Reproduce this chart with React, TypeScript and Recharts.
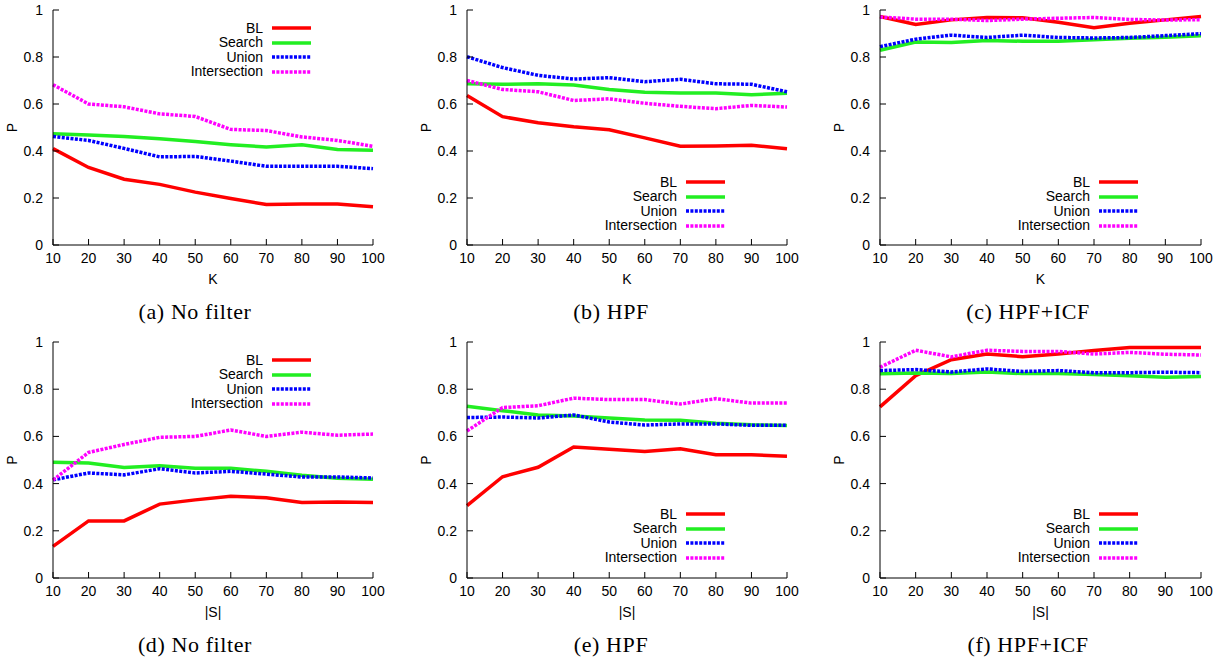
import React from 'react';
import { LineChart, Line, XAxis, YAxis, Legend } from 'recharts';

const xTicks = [10, 20, 30, 40, 50, 60, 70, 80, 90, 100];
const yTicks = [0, 0.2, 0.4, 0.6, 0.8, 1];
const seriesNames = ['BL', 'Search', 'Union', 'Intersection'];

// (a) No filter, K
const aBL = [0.41, 0.33, 0.28, 0.258, 0.225, 0.198, 0.172, 0.174, 0.174, 0.163];
const aSearch = [0.473, 0.468, 0.462, 0.452, 0.44, 0.427, 0.417, 0.427, 0.406, 0.403];
const aUnion = [0.462, 0.445, 0.411, 0.375, 0.377, 0.357, 0.335, 0.335, 0.335, 0.325];
const aInter = [0.682, 0.6, 0.588, 0.558, 0.547, 0.492, 0.487, 0.46, 0.445, 0.42];
// (b) HPF, K
const bBL = [0.636, 0.546, 0.52, 0.503, 0.49, 0.456, 0.42, 0.421, 0.424, 0.41];
const bSearch = [0.686, 0.684, 0.686, 0.681, 0.662, 0.65, 0.647, 0.647, 0.639, 0.646];
const bUnion = [0.801, 0.755, 0.722, 0.706, 0.712, 0.695, 0.705, 0.686, 0.684, 0.652];
const bInter = [0.7, 0.662, 0.652, 0.615, 0.622, 0.603, 0.59, 0.58, 0.594, 0.587];
// (c) HPF+ICF, K
const cBL = [0.972, 0.938, 0.958, 0.968, 0.967, 0.948, 0.925, 0.944, 0.958, 0.972];
const cSearch = [0.829, 0.864, 0.862, 0.87, 0.867, 0.867, 0.873, 0.88, 0.884, 0.89];
const cUnion = [0.844, 0.876, 0.893, 0.883, 0.893, 0.883, 0.881, 0.883, 0.891, 0.899];
const cInter = [0.97, 0.961, 0.961, 0.955, 0.961, 0.965, 0.968, 0.96, 0.957, 0.959];
// (d) No filter, |S|
const dBL = [0.134, 0.242, 0.242, 0.313, 0.331, 0.346, 0.34, 0.32, 0.322, 0.32];
const dSearch = [0.49, 0.487, 0.468, 0.476, 0.465, 0.465, 0.452, 0.435, 0.423, 0.418];
const dUnion = [0.416, 0.445, 0.437, 0.463, 0.445, 0.452, 0.44, 0.428, 0.428, 0.424];
const dInter = [0.415, 0.532, 0.566, 0.596, 0.6, 0.627, 0.6, 0.618, 0.605, 0.61];
// (e) HPF, |S|
const eBL = [0.307, 0.429, 0.469, 0.555, 0.546, 0.536, 0.548, 0.522, 0.522, 0.516];
const eSearch = [0.728, 0.709, 0.691, 0.686, 0.678, 0.67, 0.668, 0.656, 0.649, 0.646];
const eUnion = [0.68, 0.682, 0.678, 0.691, 0.661, 0.648, 0.653, 0.653, 0.647, 0.647];
const eInter = [0.623, 0.722, 0.73, 0.762, 0.756, 0.756, 0.737, 0.76, 0.741, 0.742];
// (f) HPF+ICF, |S|
const fBL = [0.725, 0.857, 0.925, 0.949, 0.938, 0.949, 0.964, 0.977, 0.977, 0.977];
const fSearch = [0.865, 0.869, 0.867, 0.873, 0.866, 0.866, 0.862, 0.857, 0.851, 0.854];
const fUnion = [0.879, 0.883, 0.873, 0.886, 0.875, 0.879, 0.87, 0.87, 0.872, 0.87];
const fInter = [0.893, 0.965, 0.937, 0.965, 0.96, 0.96, 0.949, 0.956, 0.948, 0.945];

const SANS = '"Liberation Sans", Arial, Helvetica, sans-serif';
const SERIF = '"Liberation Serif", "Times New Roman", serif';
const TICK = 6;
const FS = 14;

const seriesStyles = [
  { color: '#ff0000', dash: undefined as string | undefined },
  { color: '#22ee22', dash: undefined as string | undefined },
  { color: '#0000ff', dash: '3 1.4' },
  { color: '#ff00ff', dash: '3 1.4' },
];

const ML = 60; // left space inside container before plot
const MT = 10;
const MR = 20;
const BOTTOM_H = 90;

type Panel = {
  caption: string;
  xLabel: string;
  plotLeft: number;
  plotTop: number;
  plotW: number;
  plotH: number;
  legendRow1: number;
  captionDx: number;
  values: number[][];
};

const panels: Panel[] = [
  { caption: '(a) No filter', xLabel: 'K', plotLeft: 53, plotTop: 10, plotW: 320, plotH: 235, legendRow1: 18, captionDx: 142, values: [aBL, aSearch, aUnion, aInter] },
  { caption: '(b) HPF', xLabel: 'K', plotLeft: 467, plotTop: 10, plotW: 320, plotH: 235, legendRow1: 172, captionDx: 144, values: [bBL, bSearch, bUnion, bInter] },
  { caption: '(c) HPF+ICF', xLabel: 'K', plotLeft: 880, plotTop: 10, plotW: 321, plotH: 235, legendRow1: 172, captionDx: 148, values: [cBL, cSearch, cUnion, cInter] },
  { caption: '(d) No filter', xLabel: '|S|', plotLeft: 53, plotTop: 342, plotW: 320, plotH: 236, legendRow1: 18, captionDx: 142, values: [dBL, dSearch, dUnion, dInter] },
  { caption: '(e) HPF', xLabel: '|S|', plotLeft: 467, plotTop: 342, plotW: 320, plotH: 236, legendRow1: 172, captionDx: 144, values: [eBL, eSearch, eUnion, eInter] },
  { caption: '(f) HPF+ICF', xLabel: '|S|', plotLeft: 880, plotTop: 342, plotW: 321, plotH: 236, legendRow1: 172, captionDx: 148, values: [fBL, fSearch, fUnion, fInter] },
];

const LeftTick = (props: any) => {
  const { x, y, payload } = props;
  return (
    <g>
      <line x1={x} x2={x + TICK} y1={y} y2={y} stroke="#000" strokeWidth={1} />
      <text x={x - 10} y={y} dy={5} textAnchor="end" fontSize={FS} fontFamily={SANS} fill="#000">
        {String(payload.value)}
      </text>
    </g>
  );
};
const RightTick = (props: any) => {
  const { x, y } = props;
  return <line x1={x} x2={x - TICK} y1={y} y2={y} stroke="#000" strokeWidth={1} />;
};
const BottomTick = (props: any) => {
  const { x, y, payload } = props;
  return (
    <g>
      <line x1={x} x2={x} y1={y} y2={y - TICK} stroke="#000" strokeWidth={1} />
      <text x={x} y={y + 18} textAnchor="middle" fontSize={FS} fontFamily={SANS} fill="#000">
        {String(payload.value)}
      </text>
    </g>
  );
};
const TopTick = (props: any) => {
  const { x, y } = props;
  return <line x1={x} x2={x} y1={y} y2={y + TICK} stroke="#000" strokeWidth={1} />;
};

const LegendBox = () => (
  <div style={{ fontFamily: SANS, fontSize: FS, color: '#000', lineHeight: '14.5px' }}>
    {seriesNames.map((name, i) => (
      <div key={name} style={{ display: 'flex', alignItems: 'center', height: 14.5 }}>
        <span style={{ width: 210, textAlign: 'right', whiteSpace: 'nowrap' }}>{name}</span>
        <svg width={40} height={8} style={{ marginLeft: 9, display: 'block' }}>
          <line
            x1={0}
            x2={39}
            y1={4}
            y2={4}
            stroke={seriesStyles[i].color}
            strokeWidth={3.5}
            strokeDasharray={seriesStyles[i].dash}
          />
        </svg>
      </div>
    ))}
  </div>
);

const PanelChart = ({ p }: { p: Panel }) => {
  const data = xTicks.map((x, i) => {
    const row: any = { x };
    seriesNames.forEach((n, s) => {
      row[n] = p.values[s][i];
    });
    return row;
  });
  const W = p.plotW + ML + MR;
  const H = p.plotH + MT + BOTTOM_H;
  const yLabel = () => {
    const cx = ML - 41;
    const cy = MT + p.plotH / 2;
    return (
      <text x={cx} y={cy} transform={`rotate(-90, ${cx}, ${cy})`} textAnchor="middle" dy={5} fontSize={FS} fontFamily={SANS} fill="#000">
        P
      </text>
    );
  };
  const xLabel = () => {
    const cx = ML + p.plotW / 2;
    const by = MT + p.plotH;
    return (
      <g>
        <text x={cx} y={by + 39} textAnchor="middle" fontSize={FS} fontFamily={SANS} fill="#000">
          {p.xLabel}
        </text>
        <text x={ML + p.captionDx} y={by + 74} textAnchor="middle" fontSize={22} letterSpacing={0.6} fontFamily={SERIF} fill="#000" style={{ whiteSpace: 'pre' }}>
          {p.caption}
        </text>
      </g>
    );
  };
  return (
    <div style={{ position: 'absolute', left: p.plotLeft - ML, top: p.plotTop - MT, width: W, height: H }}>
      <LineChart width={W} height={H} data={data} margin={{ top: MT, right: MR, bottom: 0, left: 0 }}>
        <XAxis
          dataKey="x"
          type="number"
          domain={[10, 100]}
          ticks={xTicks}
          interval={0}
          height={BOTTOM_H}
          tickSize={0}
          tickMargin={0}
          tickLine={false}
          tick={<BottomTick />}
          axisLine={{ stroke: '#000', strokeWidth: 1 }}
          label={xLabel}
        />
        <XAxis
          xAxisId="top"
          orientation="top"
          dataKey="x"
          type="number"
          domain={[10, 100]}
          ticks={xTicks}
          interval={0}
          height={0}
          tickSize={0}
          tickMargin={0}
          tickLine={false}
          tick={<TopTick />}
          axisLine={{ stroke: '#000', strokeWidth: 1 }}
        />
        <YAxis
          type="number"
          domain={[0, 1]}
          ticks={yTicks}
          interval={0}
          width={ML}
          tickSize={0}
          tickMargin={0}
          tickLine={false}
          tick={<LeftTick />}
          axisLine={{ stroke: '#000', strokeWidth: 1 }}
          label={yLabel}
        />
        <YAxis
          yAxisId="right"
          orientation="right"
          type="number"
          domain={[0, 1]}
          ticks={yTicks}
          interval={0}
          width={0}
          tickSize={0}
          tickMargin={0}
          tickLine={false}
          tick={<RightTick />}
          axisLine={{ stroke: '#000', strokeWidth: 1 }}
        />
        <Legend
          layout="vertical"
          align="center"
          verticalAlign="middle"
          wrapperStyle={{ position: 'absolute', left: ML, top: MT + p.legendRow1 - 7.25, width: 270 }}
          content={() => <LegendBox />}
        />
        {seriesNames.map((n, i) => (
          <Line
            key={n}
            dataKey={n}
            type="linear"
            stroke={seriesStyles[i].color}
            strokeWidth={3.5}
            strokeDasharray={seriesStyles[i].dash}
            dot={false}
            activeDot={false}
            isAnimationActive={false}
          />
        ))}
      </LineChart>
    </div>
  );
};

export default function App() {
  return (
    <div style={{ position: 'absolute', left: 0, top: 0, width: 1225, height: 662, background: '#fff', overflow: 'hidden' }}>
      {panels.map((p, i) => (
        <PanelChart key={i} p={p} />
      ))}
    </div>
  );
}
